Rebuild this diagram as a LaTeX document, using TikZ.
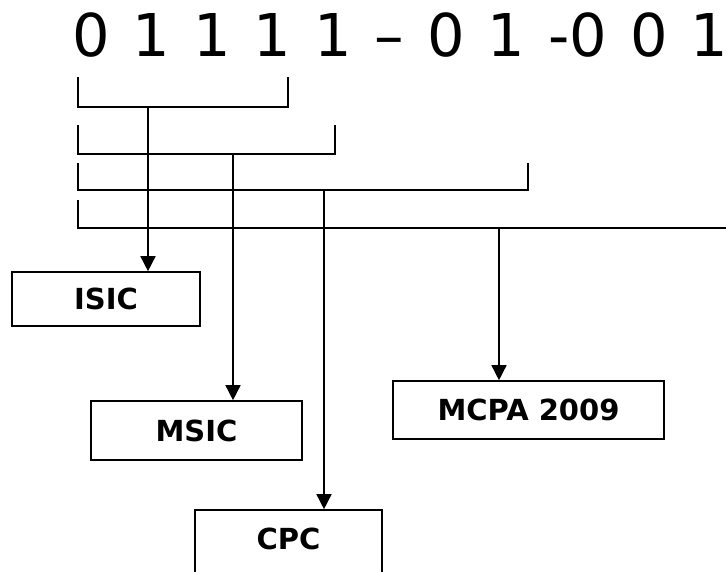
\documentclass[tikz,border=0pt]{standalone}
\usepackage{fontspec}
\setmainfont{DejaVu Sans}
\usetikzlibrary{arrows.meta}
\tikzset{
  codebox/.style={draw=pathcolor,fill=fillcolor,line width=1.6pt,inner sep=0pt,
    font=\bfseries\fontsize{29}{29}\selectfont,text height=21pt,text depth=0pt},
  bracket/.style={draw=pathcolor,line width=1.5pt},
  feed/.style={draw=pathcolor,line width=1.5pt,-{Triangle[length=15pt,width=15pt]}}
}
\begin{document}
\begin{tikzpicture}[x=1pt,y=-1pt]
\definecolor{fillcolor}{RGB}{255,255,255}
\definecolor{pathcolor}{RGB}{0,0,0}
\useasboundingbox (0,0) rectangle (726,572);
\node [anchor=base west,inner sep=0pt,font=\fontsize{59}{59}\selectfont] (code) at (72,57) {\spaceskip=23pt 0 1 1 1 1 – 0 1 -0 0 1};
\draw [bracket] (78,77) -- (78,107) -- (288,107) -- (288,77);
\draw [bracket] (78,125) -- (78,154) -- (335,154) -- (335,125);
\draw [bracket] (78,163) -- (78,190) -- (528,190) -- (528,163);
\draw [bracket] (78,200) -- (78,228) -- (740,228);
\coordinate (s1) at (148,107);
\coordinate (s2) at (233,154);
\coordinate (s3) at (324,190);
\coordinate (s4) at (499,228);
\node [codebox,minimum width=188pt,minimum height=54pt] (isic) at (106,299) {ISIC};
\node [codebox,minimum width=211pt,minimum height=59pt] (msic) at (196.5,430.5) {MSIC};
\node [codebox,minimum width=271pt,minimum height=58pt] (mcpa) at (528.5,410) {MCPA 2009};
\node [codebox,minimum width=187pt,minimum height=66pt,text depth=8pt] (cpc) at (288.5,543) {CPC};
\draw [feed] (s1) -- (s1 |- isic.north);
\draw [feed] (s2) -- (s2 |- msic.north);
\draw [feed] (s3) -- (s3 |- cpc.north);
\draw [feed] (s4) -- (s4 |- mcpa.north);
\end{tikzpicture}
\end{document}
